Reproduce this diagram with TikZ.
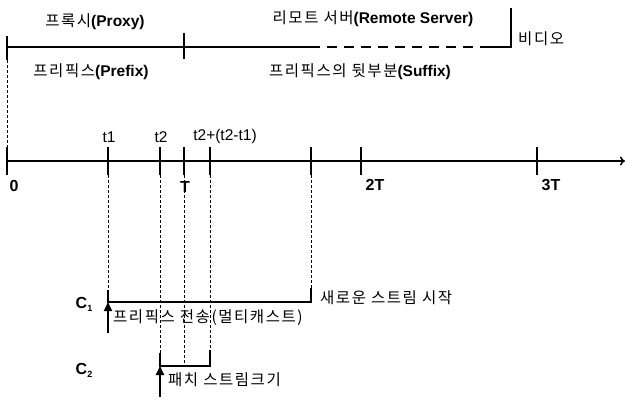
\documentclass[tikz,border=0pt]{standalone}
\usepackage{fontspec}
\setmainfont{Liberation Sans}
\newfontfamily\kr[LetterSpace=10]{Noto Sans CJK KR}
\usetikzlibrary{arrows.meta}
\newcommand\lb[1]{{\normalfont\bfseries #1}}
\begin{document}
\begin{tikzpicture}[x=1pt,y=-1pt,
  line/.style={line width=1.5pt},
  tickmark/.style={line width=2pt},
  guide/.style={line width=0.6pt, dash pattern=on 3pt off 2pt},
  krt/.style={font=\kr\fontsize{15.5}{17}\selectfont, inner sep=0pt},
  latb/.style={font=\bfseries\fontsize{16}{18}\selectfont, inner sep=0pt},
  latr/.style={font=\fontsize{15.5}{18}\selectfont, inner sep=0pt},
  upar/.style={line width=2pt, -{Triangle[length=9pt,width=8pt]}}]
\useasboundingbox (0,0) rectangle (626,399);
% top line
\coordinate (p0) at (7,47);
\coordinate (p2) at (310,47);
\coordinate (p3) at (486,47);
\coordinate (p4) at (511,47);
\coordinate (p5) at (511,8);
\coordinate (tt0a) at (7,36);  \coordinate (tt0b) at (7,60);
\coordinate (tt1a) at (184,33); \coordinate (tt1b) at (184,59);
\draw[line] (p0) -- (p2);
\draw[line, dash pattern=on 10pt off 7pt] (p2) -- (p3);
\draw[line] (p3) -- (p4) -- (p5);
\draw[tickmark] (tt0a) -- (tt0b);
\draw[tickmark] (tt1a) -- (tt1b);
\node[krt] (proxy) at (95,22) {프록시\lb{(Proxy)}};
\node[krt] (remote) at (373,19) {리모트 서버\lb{(Remote Server)}};
\node[krt, anchor=west] (video) at (518,39) {비디오};
\node[krt] (prefix) at (91,72) {프리픽스\lb{(Prefix)}};
\node[krt] (suffix) at (360,72) {프리픽스의 뒷부분\lb{(Suffix)}};
% axis
\coordinate (ax0) at (7,161);
\coordinate (axe) at (625,161);
\draw[line, -{To[length=5pt,width=9pt]}] (ax0) -- (axe);
\foreach \n/\x in {a0/7, a1/108, a2/160, aT/184, a3/210, a4/311, a5/361, a6/537} {
  \coordinate (\n u) at (\x,147);
  \coordinate (\n d) at (\x,175);
  \draw[tickmark] (\n u) -- (\n d);
}
\node[latb] (l0) at (14,186) {0};
\node[latr] (l1) at (109,137) {t1};
\node[latr] (l2) at (161,137) {t2};
\node[latb] (lT) at (185,187) {T};
\node[latr] (l3) at (225,136) {t2+(t2-t1)};
\node[latb] (l5) at (375,185) {2T};
\node[latb] (l6) at (551,185) {3T};
% guides
\draw[guide] (tt0b) -- (a0u);
\coordinate (g1) at (108,290);
\coordinate (g2) at (160,353);
\coordinate (g3) at (184,366);
\coordinate (g4) at (210,350);
\coordinate (g5) at (311,288);
\draw[guide] (a1d) -- (g1);
\draw[guide] (a2d) -- (g2);
\draw[guide] (aTd) -- (g3);
\draw[guide] (a3d) -- (g4);
\draw[guide] (a4d) -- (g5);
% C1 bracket
\coordinate (c1l) at (108,302);
\coordinate (c1r) at (311,302);
\coordinate (c1a) at (108,333);
\draw[line] (g1) -- (c1l) -- (c1r) -- (g5);
\draw[upar] (c1a) -- (c1l);
% C2 bracket
\coordinate (c2l) at (160,366);
\coordinate (c2r) at (210,366);
\coordinate (c2a) at (160,397);
\draw[line] (g2) -- (c2l) -- (c2r) -- (g4);
\draw[upar] (c2a) -- (c2l);
% labels
\node[latb] (C1) at (84,304) {C\raisebox{-0.35ex}{\fontsize{9}{10}\selectfont 1}};
\node[latb] (C2) at (84,370) {C\raisebox{-0.35ex}{\fontsize{9}{10}\selectfont 2}};
\node[krt, anchor=west] (send) at (113,318) {프리픽스 전송(멀티캐스트)};
\node[krt, anchor=west] (newst) at (320,298) {새로운 스트림 시작};
\node[krt, anchor=west] (patch) at (168,380) {패치 스트림크기};
\end{tikzpicture}
\end{document}
